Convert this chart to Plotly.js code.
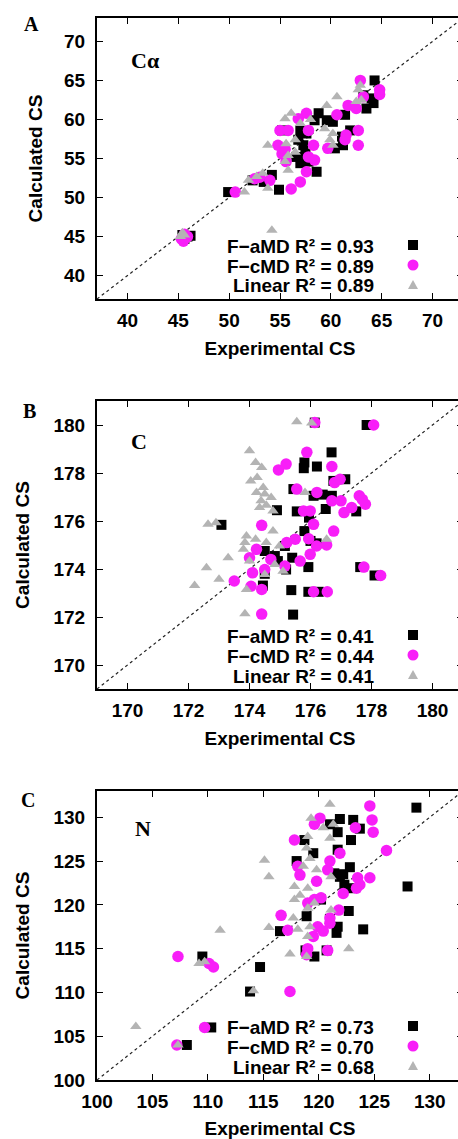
<!DOCTYPE html>
<html>
<head>
<meta charset="utf-8">
<script src="https://cdn.plot.ly/plotly-3.0.1.min.js"></script>
<style>
html,body{margin:0;padding:0;overflow:hidden;background:#fff;}
#plot{width:470px;height:1139px;}
</style>
</head>
<body>
<div id="plot"></div>
<script>
// ---------- DATA ----------
// Panel A : C-alpha
const caExpAMD  = [45.4,45.9,46.2,45.6,49.9,54.2,54.9,53.4,55.2,57.0,57.6,57.3,57.5,56.6,57.0,57.8,58.6,58.8,58.4,59.6,60.2,61.4,61.9,61.1,61.2,60.4,64.3,64.0,63.5,64.2,52.3,56.8,63.2];
const caCalcAMD = [45.2,45.0,45.1,44.7,50.7,52.9,51.0,52.0,58.6,58.6,58.2,56.7,55.6,55.2,54.4,54.6,53.3,60.8,59.9,59.9,59.7,60.6,58.6,57.8,56.7,56.3,65.0,62.7,61.4,62.1,52.2,57.4,63.1];
const caExpCMD  = [45.3,45.6,45.9,45.5,50.6,52.5,54.0,55.0,55.8,57.8,54.8,55.2,55.6,57.8,58.4,57.6,57.0,56.1,58.3,59.7,61.5,61.4,62.7,62.7,60.6,57.6,56.8,61.7,62.5,63.2,64.8,64.8,62.9,53.0,55.5];
const caCalcCMD = [44.7,45.3,45.0,44.4,50.7,52.4,52.2,58.6,58.6,58.6,56.7,55.6,54.6,55.2,54.8,53.3,52.0,51.1,56.7,56.3,58.0,57.4,58.6,56.7,60.6,60.8,60.1,61.8,61.4,62.9,63.8,63.2,65.0,52.6,56.2];
const caExpLin  = [45.2,45.4,45.6,51.5,51.9,53.3,53.8,54.2,53.8,55.6,56.5,55.8,55.5,55.8,56.1,55.5,59.4,60.2,59.9,60.2,59.6,60.6,62.5,62.7,57.0,58.0,56.5,63.0,52.7,62.9];
const caCalcLin = [45.0,45.5,45.2,50.7,52.2,53.1,51.2,45.8,56.7,56.9,57.4,55.4,54.6,53.5,60.8,60.1,58.8,58.2,57.4,56.7,61.8,62.9,62.3,63.8,59.5,60.0,55.8,62.5,52.7,64.4];

// Panel B : C
const cExpAMD  = [177.84,176.14,176.69,175.8,175.78,176.21,177.14,176.75,175.44,176.1,176.4,176.5,177.5,174.9,175.55,175.95,173.08,175.8,176.0,176.2,175.16,175.4,174.5,174.83,174.93,175.2,175.93,174.5,174.44,175.37,175.93,176.27,175.43,177.63,178.1,176.7];
const cCalcAMD = [180.0,180.1,178.86,178.44,178.2,178.27,177.74,177.67,177.33,177.05,177.1,176.5,176.4,176.45,176.4,176.14,175.84,175.58,175.17,175.07,174.96,174.47,174.75,174.54,174.33,173.98,174.08,173.8,173.31,173.12,173.05,173.05,172.1,174.08,173.73,177.05];
const cExpCMD  = [178.07,176.14,175.88,174.95,175.2,176.7,176.79,176.97,175.55,176.21,176.7,177.0,177.1,177.6,177.8,177.35,175.77,175.99,174.4,176.1,176.76,175.5,175.94,175.22,176.2,176.53,174.23,174.7,175.16,175.66,175.99,174.0,174.1,174.5,174.05,174.4,173.5,176.1,176.55,177.75,178.3,174.4,177.7];
const cCalcCMD = [180.0,180.1,178.86,178.13,178.37,178.27,177.6,177.74,177.33,177.19,176.84,176.84,176.35,177.05,176.7,176.56,176.42,176.42,175.82,175.86,175.58,175.24,175.26,175.1,174.96,175.0,174.82,174.4,174.12,174.33,174.61,174.47,173.84,173.98,173.28,173.15,173.5,173.05,173.05,174.08,173.73,172.12,176.9];
const cExpLin  = [175.55,176.04,174.0,174.2,174.4,174.25,174.04,174.45,174.23,174.5,174.71,174.38,174.55,174.33,174.77,172.64,172.9,173.9,173.85,174.2,173.8,174.77,174.55,172.59,173.3,172.2,173.0,173.9,173.85,174.98,174.83,175.1,174.5,175.82,176.53,174.0];
const cCalcLin = [180.14,180.08,178.93,178.44,178.23,177.81,177.67,177.4,177.19,177.12,176.98,176.84,176.66,176.56,176.42,175.86,175.93,175.38,175.1,175.24,174.82,175.58,175.1,174.05,174.47,173.31,173.57,173.15,172.14,174.96,174.19,173.91,173.77,177.19,175.24,174.33];

// Panel C : N
const nExpAMD  = [128.8,128.0,121.9,123.1,123.7,121.7,121.0,118.7,122.9,119.5,121.7,118.0,122.8,121.9,122.3,122.8,121.4,120.2,118.9,122.7,121.0,121.7,121.6,124.0,116.5,118.8,119.6,120.7,109.5,114.7,113.8,110.3,108.1,122.2];
const nCalcAMD = [131.1,122.1,129.8,129.7,128.7,128.3,129.2,127.4,127.4,125.9,126.3,125.0,124.3,123.2,122.3,121.9,123.6,120.6,118.7,119.3,118.4,117.5,116.8,117.2,117.0,114.8,114.1,114.8,114.1,112.9,110.1,106.0,104.0,123.5];
const nExpCMD  = [124.6,120.1,119.6,124.8,124.9,123.3,117.8,126.1,121.9,121.0,118.1,120.8,118.3,124.6,123.5,123.7,123.4,119.8,122.2,119.0,119.6,120.2,121.8,116.6,121.0,121.0,117.2,119.9,120.4,119.5,119.0,120.8,118.9,117.4,107.3,110.1,110.5,109.7,107.2];
const nCalcCMD = [131.3,129.9,129.2,129.7,128.3,128.8,127.4,126.2,125.9,125.0,124.4,124.0,123.4,123.1,123.1,122.3,121.9,122.7,121.3,120.2,120.6,120.8,119.4,118.8,118.5,117.9,117.1,117.5,117.0,116.4,115.0,114.8,114.3,110.1,114.1,113.3,112.9,106.0,104.0];
const nExpLin  = [121.0,119.3,121.3,120.4,121.0,119.0,118.9,119.2,115.1,115.5,119.8,118.6,121.1,117.8,119.0,118.3,117.8,119.6,117.7,119.0,118.1,119.2,115.5,111.1,121.1,117.4,119.0,122.7,118.9,109.2,109.7,114.1,103.5,107.3];
const nCalcLin = [131.5,129.9,129.2,128.8,127.6,127.8,126.5,125.3,125.1,123.2,124.0,124.4,123.2,122.1,121.9,121.1,120.6,120.2,118.5,119.6,117.2,117.5,117.4,117.1,119.4,114.4,116.4,115.0,114.1,113.3,113.5,110.2,106.1,104.0];

const panelLetters = ['A','B','C'];
const nucleusLabels = ['Cα','C','N'];
const axisRanges = [[37,73],[169,181],[100,133]];
const tickSteps = [5,2,5];
const seriesNames = ['F−aMD','F−cMD','Linear'];
const r2Values = [['0.93','0.89','0.89'],['0.41','0.44','0.41'],['0.73','0.70','0.68']];
const xTitle = 'Experimental CS';
const yTitle = 'Calculated CS';

// ---------- STYLE / LAYOUT ----------
const W = 470, H = 1139;
const ML = 97, MR = 7, MT = 18, MB = 59;
const PW = W - ML - MR, PH = H - MT - MB;
const px = x => (x - ML) / PW;
const py = y => (H - MB - y) / PH;

const colors = ['#000000', '#f81ef8', '#b4b4b4'];
const symbols = ['square', 'circle', 'triangle-up'];
const sizes = [10, 11.5, 10];
const sansBold = {family: 'Liberation Sans, Arial, sans-serif', size: 19, color: '#000', weight: 'bold'};
const serifBold = {family: 'Liberation Serif, Times New Roman, serif', color: '#000', weight: 'bold'};

// panel pixel boxes (top, bottom)
const boxes = [[18, 299], [401, 689], [791, 1080]];

const panelData = [
  [[caExpAMD, caCalcAMD], [caExpCMD, caCalcCMD], [caExpLin, caCalcLin]],
  [[cExpAMD, cCalcAMD], [cExpCMD, cCalcCMD], [cExpLin, cCalcLin]],
  [[nExpAMD, nCalcAMD], [nExpCMD, nCalcCMD], [nExpLin, nCalcLin]]
];

const traces = [];
const layout = {
  width: W, height: H,
  margin: {l: ML, r: MR, t: MT, b: MB},
  paper_bgcolor: '#fff', plot_bgcolor: '#fff',
  showlegend: false,
  shapes: [], annotations: []
};

// legend row positions per panel (pixel y of rows)
const legendRows = [[245, 265, 285], [635, 655, 675], [1026, 1046, 1066]];
const labelPos = [[31, 24], [29, 411], [28, 800]];
const nucPos = [[129, 61], [129, 441], [133, 828]];

for (let p = 0; p < 3; p++) {
  const sfx = p === 0 ? '' : String(p + 1);
  const xa = 'x' + sfx, ya = 'y' + sfx;
  for (let s = 0; s < 3; s++) {
    traces.push({
      type: 'scatter', mode: 'markers',
      x: panelData[p][s][0], y: panelData[p][s][1],
      xaxis: xa, yaxis: ya, name: seriesNames[s],
      marker: {symbol: symbols[s], size: sizes[s], color: colors[s], line: {width: 0}}
    });
  }
  const [top, bot] = boxes[p];
  const axCommon = {
    range: axisRanges[p], dtick: tickSteps[p], tick0: 0,
    showgrid: false, zeroline: false,
    showline: true, linewidth: 2, linecolor: '#000', mirror: 'allticks',
    ticks: 'inside', ticklen: 6, tickwidth: 1, tickcolor: '#000',
    tickfont: sansBold
  };
  layout['xaxis' + sfx] = Object.assign({}, axCommon, {
    anchor: ya, domain: [0, 1], ticklabelstandoff: 3,
    title: {text: xTitle, font: sansBold, standoff: 12}
  });
  layout['yaxis' + sfx] = Object.assign({}, axCommon, {
    anchor: xa, domain: [py(bot), py(top)], ticklabelstandoff: 6,
    title: {text: yTitle, font: sansBold, standoff: p === 0 ? 16 : 19}
  });
  // y = x reference line
  layout.shapes.push({
    type: 'line', xref: xa, yref: ya,
    x0: axisRanges[p][0], y0: axisRanges[p][0], x1: axisRanges[p][1], y1: axisRanges[p][1],
    line: {color: '#222', width: 1.2, dash: 'dot'}, layer: 'below'
  });
  // panel letter
  layout.annotations.push({
    xref: 'paper', yref: 'paper', x: px(labelPos[p][0]), y: py(labelPos[p][1]),
    text: panelLetters[p], showarrow: false, xanchor: 'center', yanchor: 'middle',
    font: Object.assign({}, serifBold, {size: 20})
  });
  // nucleus label
  layout.annotations.push({
    xref: 'paper', yref: 'paper', x: px(nucPos[p][0]), y: py(nucPos[p][1]),
    text: nucleusLabels[p], showarrow: false, xanchor: 'left', yanchor: 'middle',
    font: Object.assign({}, serifBold, {size: 22})
  });
  // legend
  for (let s = 0; s < 3; s++) {
    const ry = legendRows[p][s];
    layout.annotations.push({
      xref: 'paper', yref: 'paper', x: px(376), y: py(ry + 1),
      text: seriesNames[s] + ' R² = ' + r2Values[p][s],
      showarrow: false, xanchor: 'right', yanchor: 'middle', font: sansBold
    });
    const cx = 413;
    if (s === 0) {
      layout.shapes.push({type: 'rect', xref: 'paper', yref: 'paper',
        x0: px(cx - 5), x1: px(cx + 5), y0: py(ry + 5), y1: py(ry - 5),
        fillcolor: colors[0], line: {width: 0}});
    } else if (s === 1) {
      layout.shapes.push({type: 'circle', xref: 'paper', yref: 'paper',
        x0: px(cx - 5.5), x1: px(cx + 5.5), y0: py(ry + 5.5), y1: py(ry - 5.5),
        fillcolor: colors[1], line: {width: 0}});
    } else {
      layout.shapes.push({type: 'path', xref: 'paper', yref: 'paper',
        path: 'M ' + px(cx) + ' ' + py(ry - 5) + ' L ' + px(cx - 5) + ' ' + py(ry + 4) +
              ' L ' + px(cx + 5) + ' ' + py(ry + 4) + ' Z',
        fillcolor: colors[2], line: {width: 0}});
    }
  }
}

Plotly.newPlot('plot', traces, layout, {staticPlot: true, displayModeBar: false});
</script>
</body>
</html>
